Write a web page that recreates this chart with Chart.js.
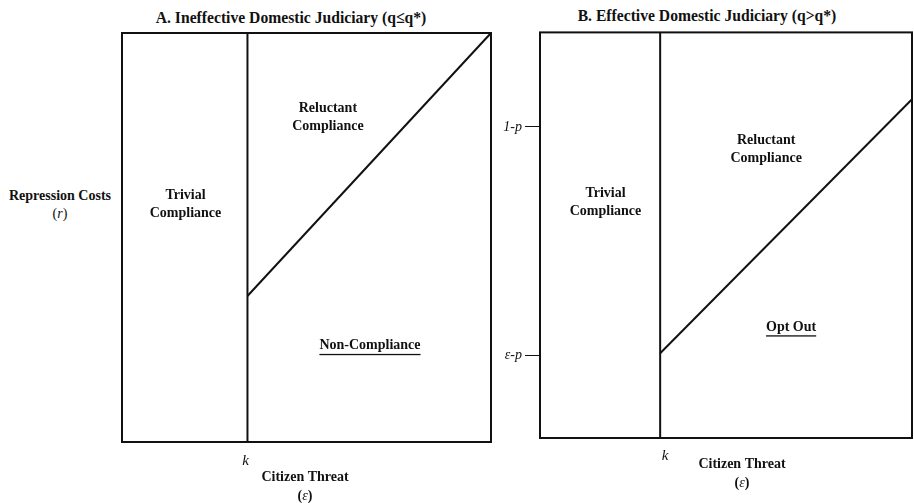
<!DOCTYPE html>
<html>
<head>
<meta charset="utf-8">
<script src="https://cdn.jsdelivr.net/npm/chart.js@4.4.1/dist/chart.umd.min.js"></script>
<style>
  body { margin: 0; background: #fff; width: 914px; height: 503px; position: relative; overflow: hidden;
         font-family: "Liberation Serif", serif; color: #111; }
  canvas { position: absolute; }
  .txt { position: absolute; font-weight: bold; text-align: center; white-space: nowrap; }
  .ttl { font-size: 17px; line-height: 20px; transform: scaleX(0.92); }
</style>
</head>
<body>
<div class="txt ttl" style="left:141px;width:300px;top:8px;">A. Ineffective Domestic Judiciary (q≤q*)</div>
<div class="txt ttl" style="left:557px;width:300px;top:6px;">B. Effective Domestic Judiciary (q&gt;q*)</div>
<div class="txt" style="left:0px;width:120px;top:187px;font-size:14px;line-height:18px;">Repression Costs<br><span style="font-weight:normal">(<i>r</i>)</span></div>

<canvas id="panelA" width="389" height="475" style="left:112px;top:28px;width:389px;height:475px;"></canvas>
<canvas id="panelB" width="434" height="482" style="left:480px;top:21px;width:434px;height:482px;"></canvas>

<script>
// ---------- panel A: ineffective judiciary ----------
const kA = 0.34;
const xTicksA = [kA];
const xTickLabelsA = ['k'];
const boundaryA = [{x: kA, y: 0}, {x: kA, y: 1}];
const diagonalA = [{x: kA, y: 0.357}, {x: 1, y: 1}];
const regionsA = [['Trivial', 'Compliance'], ['Reluctant', 'Compliance'], ['Non-Compliance']];
const underlineA = [false, false, true];
const anchorsA = [[0.172, 0.582], [0.558, 0.793], [0.672, 0.235]];

// ---------- panel B: effective judiciary ----------
const kB = 0.323;
const xTicksB = [kB];
const xTickLabelsB = ['k'];
const yTicksB = [0.204, 0.767];
const yTickLabelsB = ['ε-p', '1-p'];
const boundaryB = [{x: kB, y: 0}, {x: kB, y: 1}];
const diagonalB = [{x: kB, y: 0.209}, {x: 1, y: 0.835}];
const regionsB = [['Trivial', 'Compliance'], ['Reluctant', 'Compliance'], ['Opt Out']];
const underlineB = [false, false, true];
const anchorsB = [[0.176, 0.581], [0.608, 0.711], [0.675, 0.273]];

// shared x-axis title
const xTitle = 'Citizen Threat';
const xSymbol = 'ε';

const INK = '#111';
const SERIF = '"Liberation Serif", serif';

// frame, region names and axis title
const regionText = {
  id: 'regionText',
  afterDatasetsDraw(chart, args, opts) {
    const {ctx, chartArea: a, scales: {x, y}} = chart;
    ctx.save();
    ctx.strokeStyle = INK;
    ctx.lineWidth = 2;
    ctx.strokeRect(a.left, a.top, a.right - a.left, a.bottom - a.top);
    ctx.fillStyle = INK;
    ctx.font = 'bold 14px ' + SERIF;
    ctx.textAlign = 'center';
    ctx.textBaseline = 'middle';
    opts.labels.forEach((lines, i) => {
      const cx = x.getPixelForValue(opts.anchors[i][0]);
      const cy = y.getPixelForValue(opts.anchors[i][1]);
      lines.forEach((s, j) => {
        const ly = cy + (j - (lines.length - 1) / 2) * 18;
        ctx.fillText(s, cx, ly);
        if (opts.underline[i]) {
          const w = ctx.measureText(s).width;
          ctx.fillRect(cx - w / 2, ly + 8, w, 1.3);
        }
      });
    });
    // axis title under the frame
    const tx = x.getPixelForValue(opts.titleAt);
    const ty = a.bottom + opts.titleGap;
    ctx.fillText(xTitle, tx, ty);
    ctx.font = 'bold 14px ' + SERIF;
    const pw = ctx.measureText('(').width;
    ctx.font = 'italic 14px ' + SERIF;
    const ew = ctx.measureText(xSymbol).width;
    ctx.textAlign = 'left';
    const x0 = tx - (pw * 2 + ew) / 2;
    ctx.font = 'bold 14px ' + SERIF;
    ctx.fillText('(', x0, ty + 19);
    ctx.fillText(')', x0 + pw + ew, ty + 19);
    ctx.font = 'italic 14px ' + SERIF;
    ctx.fillText(xSymbol, x0 + pw, ty + 19);
    ctx.restore();
  }
};

function lineSet(data) {
  return {data, showLine: true, borderColor: INK, borderWidth: 2, pointRadius: 0, clip: false};
}

function makePanel(id, o) {
  const yScale = o.yTicks ? {
    min: 0, max: 1,
    afterFit: s => { s.width = 60; },
    afterBuildTicks: s => { s.ticks = o.yTicks.map(v => ({value: v})); },
    border: {display: false},
    grid: {drawOnChartArea: false, drawTicks: true, tickLength: 15, color: INK, lineWidth: 1},
    ticks: {color: INK, padding: 3, font: {family: SERIF, size: 14, style: 'italic'},
            callback: (v, i) => o.yLabels[i]}
  } : {min: 0, max: 1, display: false};

  return new Chart(document.getElementById(id), {
    type: 'scatter',
    data: {datasets: [lineSet(o.boundary), lineSet(o.diagonal)]},
    options: {
      responsive: false,
      animation: false,
      layout: {padding: o.padding},
      plugins: {
        legend: {display: false},
        tooltip: {enabled: false},
        regionText: {labels: o.regions, anchors: o.anchors, underline: o.underline,
                     titleAt: o.titleAt, titleGap: o.titleGap}
      },
      scales: {
        x: {
          min: 0, max: 1,
          afterFit: s => { s.height = o.xHeight; },
          afterBuildTicks: s => { s.ticks = o.xTicks.map(v => ({value: v})); },
          border: {display: false},
          grid: {display: false, drawTicks: false},
          ticks: {color: INK, padding: o.kPad, labelOffset: o.kShift,
                  font: {family: SERIF, size: 15, style: 'italic'},
                  callback: (v, i) => o.xLabels[i]}
        },
        y: yScale
      }
    },
    plugins: [regionText]
  });
}

makePanel('panelA', {
  boundary: boundaryA, diagonal: diagonalA, xTicks: xTicksA, xLabels: xTickLabelsA,
  regions: regionsA, anchors: anchorsA, underline: underlineA,
  padding: {left: 10, right: 10, top: 5, bottom: 0}, xHeight: 61, kPad: 10, kShift: -2,
  titleAt: 0.496, titleGap: 35
});

makePanel('panelB', {
  boundary: boundaryB, diagonal: diagonalB, xTicks: xTicksB, xLabels: xTickLabelsB,
  yTicks: yTicksB, yLabels: yTickLabelsB,
  regions: regionsB, anchors: anchorsB, underline: underlineB,
  padding: {left: 0, right: 2, top: 10, bottom: 0}, xHeight: 65, kPad: 9, kShift: 5,
  titleAt: 0.543, titleGap: 26
});
</script>
</body>
</html>
